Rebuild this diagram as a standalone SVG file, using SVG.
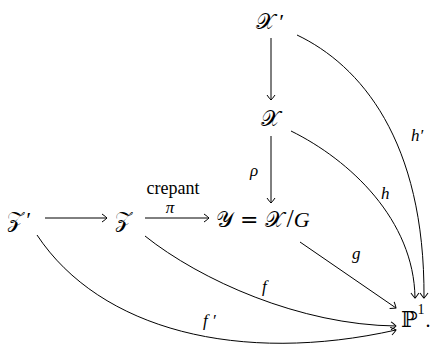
<svg xmlns="http://www.w3.org/2000/svg" width="433" height="344" viewBox="0 0 433 344">
<defs>
<style>
.m{font-family:"DejaVu Serif","Liberation Serif",serif;font-size:22px;fill:#000}
.p{font-family:"Liberation Serif",serif;font-style:italic;font-size:22px}
.r{font-family:"Liberation Serif",serif;font-size:26px}
.n{font-family:"Liberation Serif",serif}
.l{font-family:"Liberation Serif",serif;font-style:italic;font-size:17px;fill:#000}
.t{font-family:"Liberation Serif",serif;font-size:18px;fill:#000}
.c{fill:none;stroke:#000;stroke-width:1;marker-end:url(#ah)}
</style>
<marker id="ah" viewBox="-6 -5 7 10" markerWidth="7" markerHeight="10" refX="0" refY="0" orient="auto" markerUnits="userSpaceOnUse">
<path d="M -5 -4 Q -1 -1.2 0 0 Q -1 1.2 -5 4" fill="none" stroke="#000" stroke-width="1"/>
</marker>
</defs>
<rect width="433" height="344" fill="#fff"/>
<g id="connectors">
<path class="c" d="M 271 38 L 271 100"/>
<path class="c" d="M 271 136 L 271 203"/>
<path class="c" d="M 45 218 L 107 218"/>
<path class="c" d="M 145 218 L 209 218"/>
<path class="c" d="M 297 35 C 360 65, 425 140, 424 298"/>
<path class="c" d="M 291 131 C 350 160, 414 220, 415 298"/>
<path class="c" d="M 300 242 L 396 308"/>
<path class="c" d="M 145 236 C 200 280, 300 325, 396 326"/>
<path class="c" d="M 37 235 C 100 330, 240 365, 396 330"/>
<text class="t" x="173" y="194" text-anchor="middle">crepant</text>
<text class="l" x="170" y="213" text-anchor="middle">π</text>
<text class="l" x="250" y="176">ρ</text>
<text class="l" x="411" y="141">h′</text>
<text class="l" x="381" y="199">h</text>
<text class="l" x="352" y="259">g</text>
<text class="l" x="262" y="292">f</text>
<text class="l" x="203" y="326">f ′</text>
</g>
<g id="Xp"><text class="m" x="256" y="29">𝒳<tspan class="p" dx="3">′</tspan></text></g>
<g id="X"><text class="m" x="261" y="126">𝒳</text></g>
<g id="Zp"><text class="m" x="7" y="227">𝒵<tspan class="p" dx="1">′</tspan></text></g>
<g id="Z"><text class="m" x="115" y="227">𝒵</text></g>
<g id="Y"><text class="m" x="216" y="227">𝒴 = 𝒳<tspan class="r" dx="2">/</tspan><tspan class="p" font-size="26">G</tspan></text></g>
<g id="P1"><text class="m" x="401" y="327">ℙ<tspan class="n" font-size="14" dy="-13">1</tspan><tspan class="n" font-size="20" dx="1" dy="13">.</tspan></text></g>
</svg>
